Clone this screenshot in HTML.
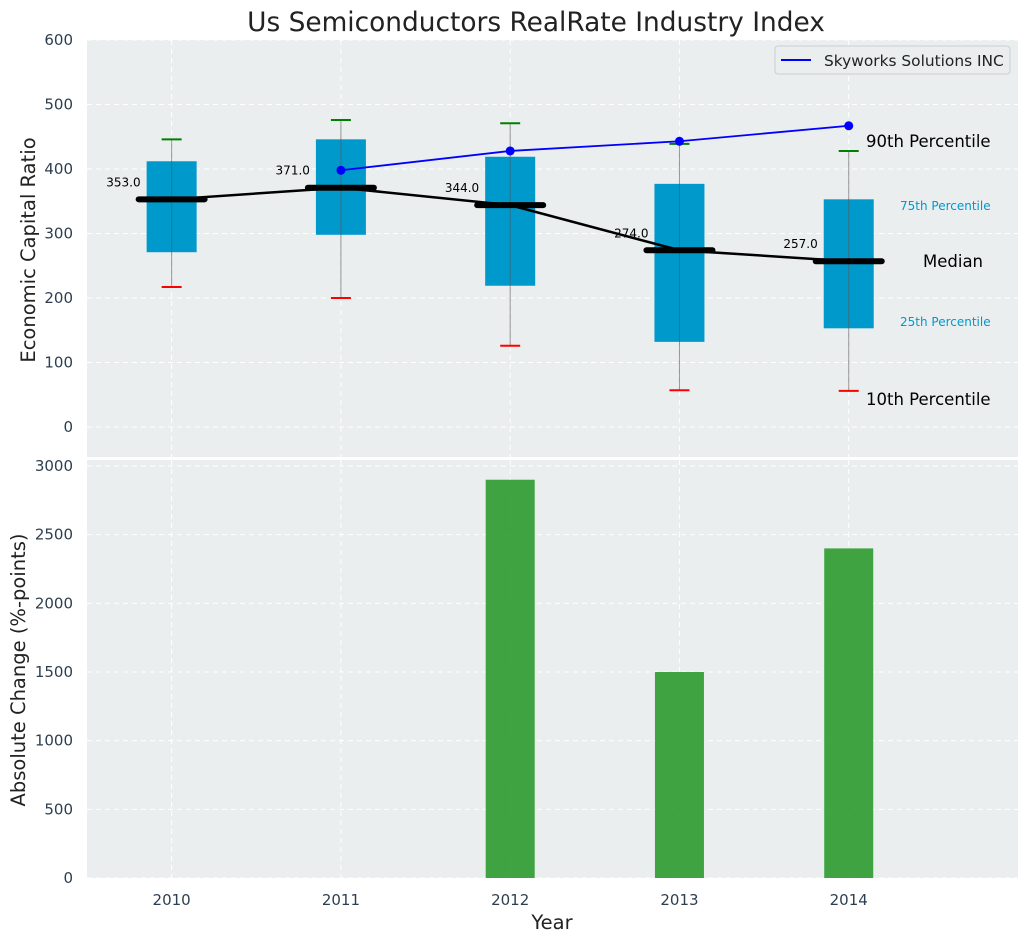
<!DOCTYPE html>
<html><head><meta charset="utf-8"><style>
body{margin:0;background:#fff;}
svg text{font-family:"DejaVu Sans","Liberation Sans",sans-serif;}
</style></head><body>
<svg id="c" width="1026" height="942" xmlns="http://www.w3.org/2000/svg"></svg>
<script>
const years=[2010,2011,2012,2013,2014];
const p10=[217,200,126,57,56];
const q1=[271,298,219,132,153];
const med=[353,371,344,274,257];
const q3=[412,446,419,377,353];
const p90=[446,476,471,439,428];
const skyYears=[2011,2012,2013,2014];
const skyVals=[398,428,443,467];
const changeVals=[0,0,2900,1500,2400];
const topTicks=[0,100,200,300,400,500,600];
const botTicks=[0,500,1000,1500,2000,2500,3000];

const NS="http://www.w3.org/2000/svg";
const svg=document.getElementById('c');
function el(t,a,p){const e=document.createElementNS(NS,t);for(const k in a)e.setAttribute(k,a[k]);(p||svg).appendChild(e);return e;}
const L=87,R=1018;
const X=v=>L+(v-2009.5)/(2015-2009.5)*(R-L);
const YT=v=>427-v*0.645;
const YB=v=>878-v*(412/3000);

let e;
e=el('rect',{x:L,y:40,width:R-L,height:417,fill:'#eaeeef'});

e=el('rect',{x:L,y:460,width:R-L,height:418,fill:'#eaeeef'});


years.forEach(y=>{
 el('line',{x1:X(y),x2:X(y),y1:40,y2:457,stroke:'#fff','stroke-dasharray':'5,4','stroke-width':1});
 el('line',{x1:X(y),x2:X(y),y1:460,y2:878,stroke:'#fff','stroke-dasharray':'5,4','stroke-width':1});
 e=el('text',{x:X(y),y:905,'text-anchor':'middle','font-size':15,fill:'#2d3e50'});e.textContent=y;
 
});
topTicks.forEach(t=>{
 el('line',{x1:L,x2:R,y1:YT(t),y2:YT(t),stroke:'#fff','stroke-dasharray':'5,4'});
 e=el('text',{x:73,y:YT(t)+5,'text-anchor':'end','font-size':15,fill:'#2d3e50'});e.textContent=t;
 
});
botTicks.forEach(t=>{
 el('line',{x1:L,x2:R,y1:YB(t),y2:YB(t),stroke:'#fff','stroke-dasharray':'5,4'});
 e=el('text',{x:73,y:YB(t)+5,'text-anchor':'end','font-size':15,fill:'#2d3e50'});e.textContent=t;
 
});

years.forEach((y,i)=>{
 const cx=X(y);
 e=el('rect',{x:cx-25,y:YT(q3[i]),width:50,height:YT(q1[i])-YT(q3[i]),fill:'#0099cc'});
 
 el('line',{x1:cx,x2:cx,y1:YT(p10[i]),y2:YT(p90[i]),stroke:'#555','stroke-opacity':0.6,'stroke-width':1});
 e=el('line',{x1:cx-10,x2:cx+10,y1:YT(p90[i]),y2:YT(p90[i]),stroke:'green','stroke-width':2});
 
 e=el('line',{x1:cx-10,x2:cx+10,y1:YT(p10[i]),y2:YT(p10[i]),stroke:'red','stroke-width':2});
 
});
e=el('polyline',{points:years.map((y,i)=>X(y)+','+YT(med[i])).join(' '),fill:'none',stroke:'#000','stroke-width':2.5});

years.forEach((y,i)=>{
 const cx=X(y);
 e=el('line',{x1:cx-33,x2:cx+33,y1:YT(med[i]),y2:YT(med[i]),stroke:'#000','stroke-width':6,'stroke-linecap':'round'});
 
 e=el('text',{x:cx-31,y:YT(med[i])-13,'text-anchor':'end','font-size':12,fill:'#000'});e.textContent=med[i].toFixed(1);
 
});
e=el('polyline',{points:skyYears.map((y,i)=>X(y)+','+YT(skyVals[i])).join(' '),fill:'none',stroke:'blue','stroke-width':1.8});

skyYears.forEach((y,i)=>{e=el('circle',{cx:X(y),cy:YT(skyVals[i]),r:4.5,fill:'blue'});
 });

const ann=[[866,147,'90th Percentile',16.5,'#000'],[900,210,'75th Percentile',12,'#0099cc'],[923,267,'Median',16.5,'#000'],[900,326,'25th Percentile',12,'#0099cc'],[866,405,'10th Percentile',16.5,'#000']];
ann.forEach(a=>{e=el('text',{x:a[0],y:a[1],'font-size':a[3],fill:a[4]});e.textContent=a[2];
 });

const lg=el('g',{});
el('rect',{x:775,y:46,width:235,height:28,rx:3,fill:'#eaeeef',stroke:'#ccc'},lg);
el('line',{x1:781,x2:811,y1:60,y2:60,stroke:'blue','stroke-width':2},lg);
e=el('text',{x:824,y:66,'font-size':15.4,fill:'#222'},lg);e.textContent='Skyworks Solutions INC';

years.forEach((y,i)=>{
 if(changeVals[i]<=0)return;
 e=el('rect',{x:X(y)-24.5,y:YB(changeVals[i]),width:49,height:YB(0)-YB(changeVals[i]),fill:'#2e9a2e','fill-opacity':0.9});
 
});

e=el('text',{x:536,y:31,'text-anchor':'middle','font-size':26.4,fill:'#222'});e.textContent='Us Semiconductors RealRate Industry Index';

e=el('text',{x:0,y:0,'text-anchor':'middle','font-size':19.5,fill:'#222',transform:'translate(35,250) rotate(-90)'});e.textContent='Economic Capital Ratio';

e=el('text',{x:0,y:0,'text-anchor':'middle','font-size':19.5,fill:'#222',transform:'translate(25,670) rotate(-90)'});e.textContent='Absolute Change (%-points)';

e=el('text',{x:552,y:929,'text-anchor':'middle','font-size':19.5,fill:'#222'});e.textContent='Year';

</script>
</body></html>
